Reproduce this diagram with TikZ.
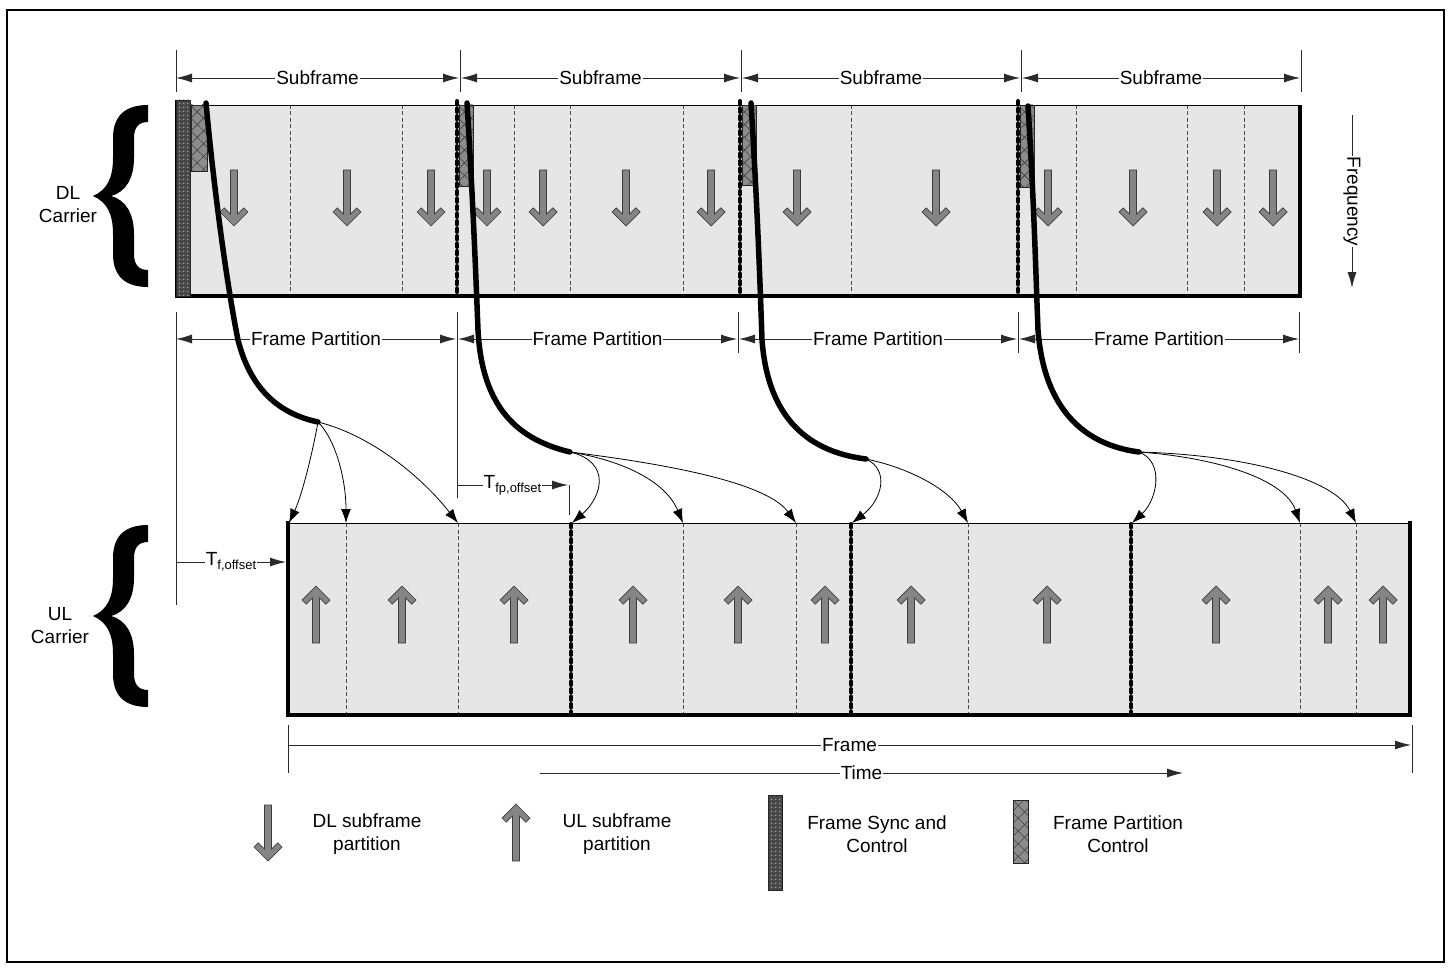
\documentclass[tikz,border=0pt]{standalone}
\usepackage{fontspec}
\setmainfont{Liberation Sans}
\usetikzlibrary{arrows.meta,patterns,patterns.meta}

\definecolor{boxfill}{HTML}{E6E6E6}
\definecolor{arrowfill}{HTML}{858585}
\definecolor{arrowline}{HTML}{3C3C3C}
\definecolor{dimline}{HTML}{2A2A2A}

\tikzset{
  lbl/.style={font=\fontsize{19}{23}\selectfont, inner sep=1pt},
  lblbg/.style={lbl, fill=white},
  dimln/.style={draw=dimline, line width=0.9pt},
  dimarr/.style={dimln, {Latex[length=16pt,width=9pt]}-{Latex[length=16pt,width=9pt]}},
  dimone/.style={dimln, -{Latex[length=16pt,width=9pt]}},
  tickln/.style={draw=dimline, line width=0.9pt},
  thindash/.style={draw=black!70, line width=0.8pt, dash pattern=on 4pt off 2.5pt},
  beaded/.style={draw=black, line width=4pt, dash pattern=on 3.5pt off 4pt, line cap=round},
  thickcurve/.style={draw=black, line width=5.5pt, line cap=round},
  fanarrow/.style={draw=black, line width=0.8pt, -{Latex[length=14pt,width=10pt]}},
  blockarrow/.style={fill=arrowfill, draw=arrowline, line width=0.7pt},
  heavy/.style={draw=black, line width=4pt},
}

\newcommand{\DLarrow}[2]{%
  \filldraw[blockarrow, shift={(#1,#2)}] (-3.5,0) -- (3.5,0) -- (3.5,44) -- (9.8,37.8) -- (14,42) -- (0,56) -- (-14,42) -- (-9.8,37.8) -- (-3.5,44) -- cycle;}
\newcommand{\ULarrow}[2]{%
  \filldraw[blockarrow, shift={(#1,#2)}] (0,0) -- (14,14) -- (9.8,18.2) -- (3.5,12) -- (3.5,57) -- (-3.5,57) -- (-3.5,12) -- (-9.8,18.2) -- (-14,14) -- cycle;}
\newcommand{\BigBrace}[2]{%
  \fill[black, shift={(#1,#2)}] (0,0) .. controls (14,-6) and (20,-18) .. (20,-38) -- (20,-58)
    .. controls (20,-80) and (32,-91) .. (55,-91) -- (55,-74)
    .. controls (46,-74) and (41,-69) .. (41,-58) -- (41,-38)
    .. controls (41,-18) and (33,-4) .. (18,0)
    .. controls (33,4) and (41,18) .. (41,38) -- (41,58)
    .. controls (41,69) and (46,74) .. (55,74) -- (55,91)
    .. controls (32,91) and (20,80) .. (20,58) -- (20,38)
    .. controls (20,18) and (14,6) .. (0,0) -- cycle;}
\newcommand{\SyncBlock}[4]{%
  \fill[black!72] (#1,#2) rectangle (#3,#4);
  \fill[pattern={Dots[radius=0.9pt,distance=4pt]}, pattern color=black!35] (#1,#2) rectangle (#3,#4);
  \draw[black!85, line width=0.6pt] (#1,#2) rectangle (#3,#4);}
\newcommand{\PartBlock}[4]{%
  \fill[black!45] (#1,#2) rectangle (#3,#4);
  \fill[pattern={Hatch[angle=45,distance=9pt,line width=0.6pt]}, pattern color=black!75] (#1,#2) rectangle (#3,#4);
  \draw[black!85, line width=0.6pt] (#1,#2) rectangle (#3,#4);}

\begin{document}
\begin{tikzpicture}[x=1pt,y=-1pt]
\useasboundingbox (0,0) rectangle (1452,971);
\fill[white] (0,0) rectangle (1452,971);
\draw[line width=2pt] (7,10) rectangle (1444,962);

% ---------- DL carrier ----------
\fill[boxfill] (176,105) rectangle (1300,296);
\foreach \x in {290,402,514,570,683,851,1076,1187,1244} \draw[thindash] (\x,105) -- (\x,296);
\foreach \x in {234,347,431,487,543,626,711,797,936,1048,1133,1217,1273} \DLarrow{\x}{170};
\draw[line width=0.9pt] (176,105) -- (1300,105);
\draw[heavy] (1300,105) -- (1300,296) -- (176,296);
\draw[line width=3pt] (176,100) -- (176,298);
\foreach \x in {457,740,1018} \draw[beaded] (\x,101) -- (\x,296);
\SyncBlock{176}{100}{190}{296}
\PartBlock{191}{105}{207}{171}
\PartBlock{459}{105}{473}{186}
\PartBlock{742}{105}{756}{185}
\PartBlock{1020}{105}{1034}{187}

% ---------- UL carrier ----------
\fill[boxfill] (288,523) rectangle (1410,715);
\foreach \x in {346,458,683,796,968,1300,1356} \draw[thindash] (\x,523) -- (\x,715);
\foreach \x in {316,402,514,633,738,825,911,1047,1216,1328,1383} \ULarrow{\x}{586};
\draw[line width=0.9pt] (288,523) -- (1410,523);
\draw[heavy] (288,521) -- (288,715) -- (1410,715) -- (1410,521);
\foreach \x in {571,851,1131} \draw[beaded] (\x,524) -- (\x,715);

% ---------- braces and carrier labels ----------
\BigBrace{93}{196}
\BigBrace{93}{616}
\node[lbl, align=center] (dlc) at (68,205) {DL\\Carrier};
\node[lbl, align=center] (ulc) at (60,626) {UL\\Carrier};

% ---------- subframe dimensions ----------
\foreach \x in {176,460,741,1021,1301} \draw[tickln] (\x,50) -- (\x,92);
\foreach \a/\b [count=\i] in {176/459,461/740,742/1020,1022/1300}
  \draw[dimarr] (\a,78) -- (\b,78) node[midway, lblbg] (sf\i) {Subframe};

% ---------- frame partition dimensions ----------
\draw[tickln] (176,312) -- (176,605);
\draw[tickln] (457,312) -- (457,498);
\foreach \x in {738,1018,1299} \draw[tickln] (\x,312) -- (\x,353);
\foreach \a/\b [count=\i] in {176/456,458/737,739/1017,1019/1299}
  \draw[dimarr] (\a,339) -- (\b,339) node[midway, lblbg] (fp\i) {Frame Partition};

% ---------- offsets ----------
\draw[dimone] (457,485) -- (568,485) node[midway, lblbg] (tfp) {T\raisebox{-4pt}{\fontsize{13}{13}\selectfont fp,offset}};
\draw[tickln] (569,485) -- (569,515);
\draw[dimone] (176,562) -- (286,562) node[midway, lblbg] (tf) {T\raisebox{-4pt}{\fontsize{13}{13}\selectfont f,offset}};

% ---------- frame / time / frequency ----------
\draw[tickln] (288,725) -- (288,773);
\draw[tickln] (1412,725) -- (1412,773);
\draw[dimone] (288,745) -- (1411,745) node[midway, lblbg] (frm) {Frame};
\draw[dimone] (540,773) -- (1183,773) node[midway, lblbg] (tim) {Time};
\draw[dimone] (1352,115) -- (1352,288) node[midway, lblbg, rotate=-90] (frq) {Frequency};

% ---------- partition mapping curves ----------
\coordinate (A1) at (318,422);
\coordinate (A2) at (570,452);
\coordinate (A3) at (866,459);
\coordinate (A4) at (1139,452);
\draw[thickcurve] (206,103) .. controls (215,200) and (228,290) .. (238,340) .. controls (252,395) and (285,415) .. (A1);
\draw[thickcurve] (467,103) .. controls (473,200) and (476,280) .. (478,330) .. controls (482,410) and (520,440) .. (A2);
\draw[thickcurve] (751,103) .. controls (757,200) and (760,280) .. (762,340) .. controls (768,420) and (810,452) .. (A3);
\draw[thickcurve] (1028,106) .. controls (1034,200) and (1036,280) .. (1038,330) .. controls (1044,410) and (1085,445) .. (A4);

\coordinate (u1) at (289,523);
\coordinate (u2) at (346,523);
\coordinate (u3) at (458,523);
\coordinate (u4) at (572,523);
\coordinate (u5) at (683,523);
\coordinate (u6) at (796,523);
\coordinate (u7) at (852,523);
\coordinate (u8) at (968,523);
\coordinate (u9) at (1132,523);
\coordinate (u10) at (1300,523);
\coordinate (u11) at (1356,523);
\draw[fanarrow] (A1) .. controls (312,455) and (302,495) .. (u1);
\draw[fanarrow] (A1) .. controls (336,440) and (346,480) .. (u2);
\draw[fanarrow] (A1) .. controls (370,435) and (420,475) .. (u3);
\draw[fanarrow] (A2) .. controls (612,462) and (602,497) .. (u4);
\draw[fanarrow] (A2) .. controls (620,460) and (665,480) .. (u5);
\draw[fanarrow] (A2) .. controls (650,462) and (765,480) .. (u6);
\draw[fanarrow] (A3) .. controls (890,470) and (882,500) .. (u7);
\draw[fanarrow] (A3) .. controls (910,468) and (950,490) .. (u8);
\draw[fanarrow] (A4) .. controls (1165,462) and (1157,500) .. (u9);
\draw[fanarrow] (A4) .. controls (1220,458) and (1285,480) .. (u10);
\draw[fanarrow] (A4) .. controls (1250,455) and (1335,480) .. (u11);

% ---------- legend ----------
\DLarrow{268}{805}
\node[lbl, align=center] (lg1) at (367,834) {DL subframe\\partition};
\ULarrow{516}{804}
\node[lbl, align=center] (lg2) at (617,834) {UL subframe\\partition};
\SyncBlock{768}{795}{782}{890}
\node[lbl, align=center] (lg3) at (877,834) {Frame Sync and\\Control};
\PartBlock{1013}{800}{1028}{863}
\node[lbl, align=center] (lg4) at (1118,834) {Frame Partition\\Control};
\end{tikzpicture}
\end{document}
